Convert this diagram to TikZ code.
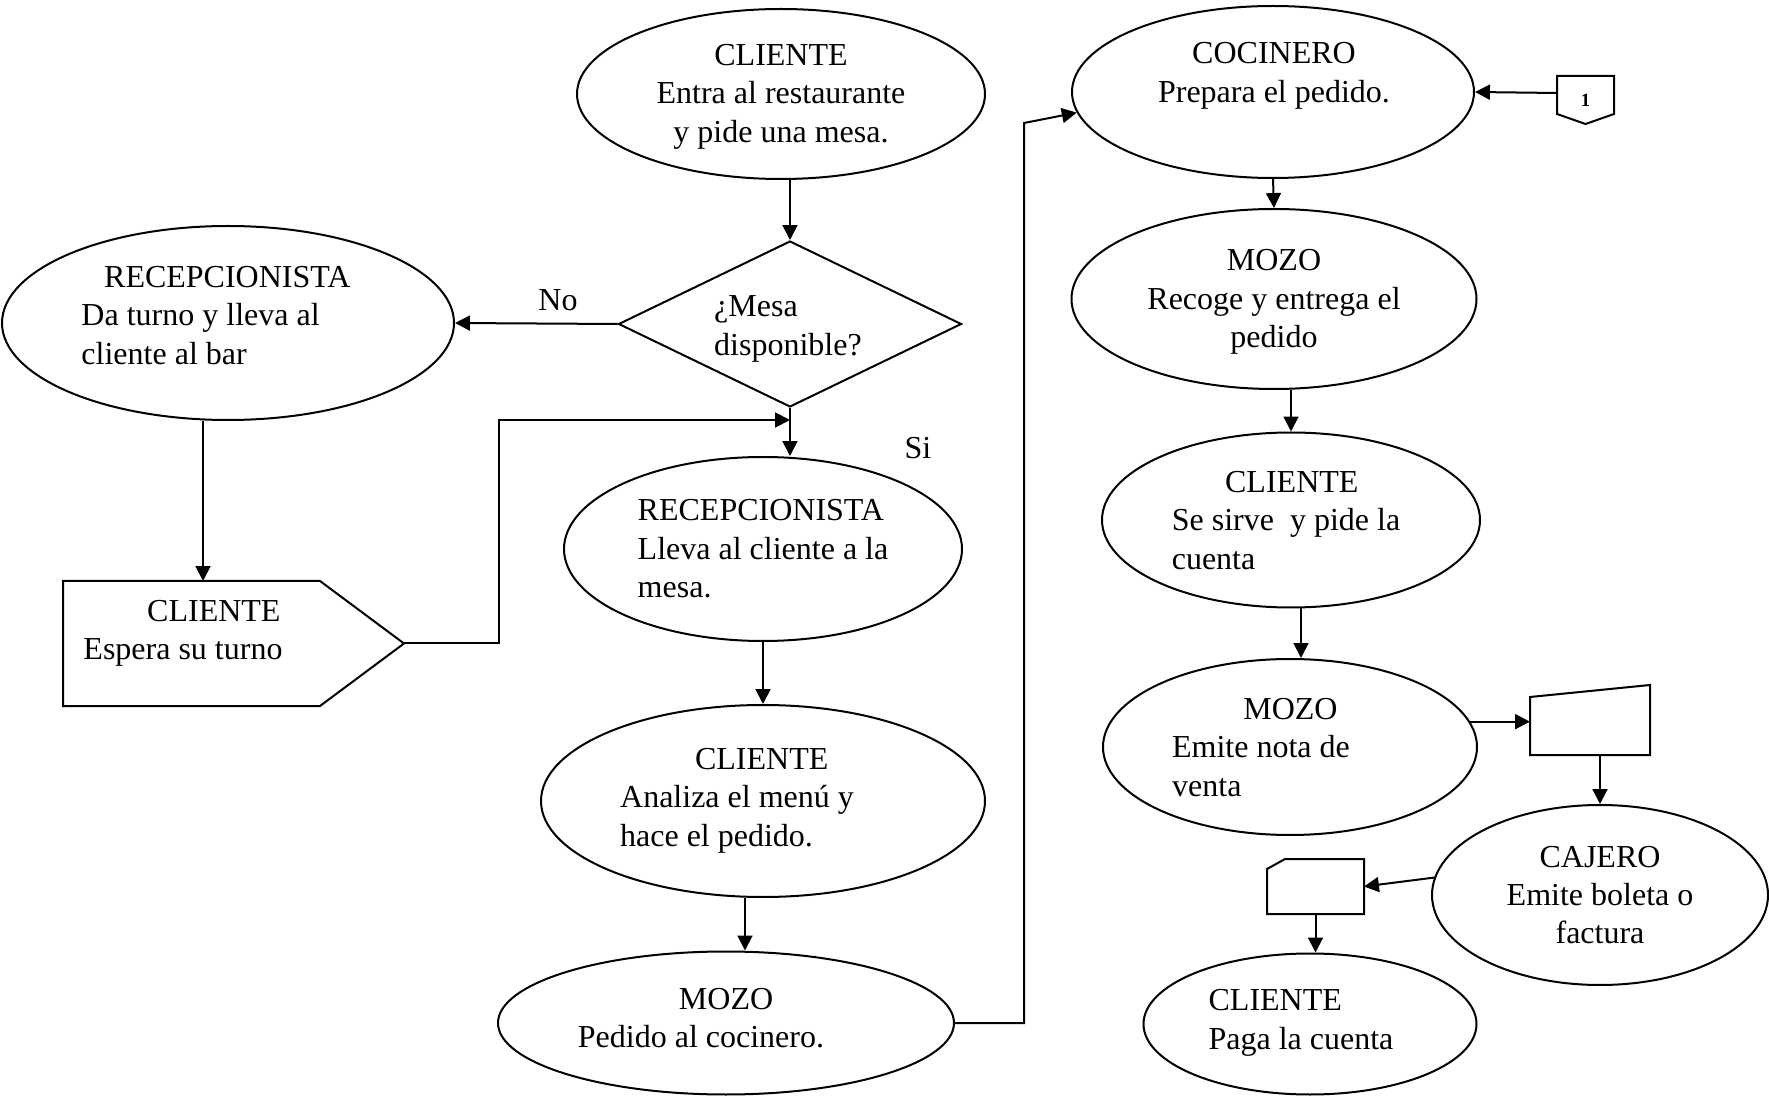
\documentclass[tikz,border=0pt]{standalone}
\usepackage{fontspec}
\setmainfont{Liberation Serif}
\usetikzlibrary{arrows.meta,shapes.geometric,calc}
\def\px{0.375pt}
\newcommand{\blk}[3][0pt]{\begin{tabular}{@{}l@{}}\hspace*{#1}#2\\#3\end{tabular}}

\begin{document}
\begin{tikzpicture}[x=\px,y=-\px,line width=0.75pt,>={Triangle[length=5.6pt,width=5.6pt]},
  every node/.style={font=\fontsize{12}{14.4}\selectfont},
  elli/.style={draw,ellipse,inner sep=0pt},
  box/.style={inner sep=0pt},
  txt/.style={inner sep=0pt},
  arr/.style={->}]
\useasboundingbox (0,0) rectangle (1769,1098);
\node[elli,minimum width=408*\px,minimum height=170*\px] (c1) at (781,94) {};
\node[draw,diamond,aspect=2,inner sep=0pt,minimum width=343*\px,minimum height=166*\px] (q) at (790,324) {};
\node[elli,minimum width=452*\px,minimum height=194*\px] (r1) at (228,323) {};
\node[box,minimum width=255*\px,minimum height=123*\px] (w) at (191.5,643.5) {};
\draw (w.south west) -- (w.north west) -- (w.north east) -- ($(w.east)+(84,0)$) coordinate (wtip) -- (w.south east) -- cycle;
\node[elli,minimum width=398*\px,minimum height=184*\px] (r2) at (763,549) {};
\node[elli,minimum width=444*\px,minimum height=192*\px] (c2) at (763,801) {};
\node[elli,minimum width=456*\px,minimum height=143*\px] (m1) at (726,1023) {};
\node[elli,minimum width=402*\px,minimum height=172*\px] (k) at (1273,92) {};
\node[elli,minimum width=405*\px,minimum height=180*\px] (m2) at (1274,299) {};
\node[elli,minimum width=378*\px,minimum height=175*\px] (c3) at (1291,520) {};
\node[elli,minimum width=374*\px,minimum height=176*\px] (m3) at (1290,747) {};
\node[elli,minimum width=336*\px,minimum height=180*\px] (j) at (1600,895) {};
\node[elli,minimum width=333*\px,minimum height=141*\px] (c4) at (1310,1024) {};
\node[box,minimum width=55*\px,minimum height=46*\px,font=\fontsize{7}{8}\selectfont\bfseries] (p1) at (1585.5,100) {1};
\draw (p1.north west) -- (p1.north east) -- ($(p1.south east)+(0,-10)$) -- (p1.south) -- ($(p1.south west)+(0,-10)$) -- cycle;
\node[box,minimum width=118*\px,minimum height=68*\px] (n) at (1590,720) {};
\draw (n.south west) -- (n.south east) -- (n.north east) -- ($(n.north west)+(0,12)$) -- cycle;
\node[box,minimum width=95*\px,minimum height=53*\px] (d) at (1315.5,886.5) {};
\draw (d.south west) -- (d.south east) -- (d.north east) -- ($(d.north west)+(18,0)$) -- ($(d.north west)+(0,10)$) -- cycle;
\node[txt,align=center] (c1t) at (781,96.5) {CLIENTE\\Entra al restaurante\\y pide una mesa.};
\node[txt,align=left] (qt) at (788,329) {¿Mesa\\disponible?};
\node[txt] (r1t) at (216,318) {\blk[8.5pt]{RECEPCIONISTA}{Da turno y lleva al\\cliente al bar}};
\node[txt] (wt) at (183,633) {\blk[23.9pt]{CLIENTE}{Espera su turno}};
\node[txt,align=left] (r2t) at (763,549) {RECEPCIONISTA\\Lleva al cliente a la\\mesa.};
\node[txt] (c2t) at (737,800) {\blk[28.1pt]{CLIENTE}{Analiza el menú y\\hace el pedido.}};
\node[txt] (m1t) at (701,1021) {\blk[37.9pt]{MOZO}{Pedido al cocinero.}};
\node[txt,align=center] (kt) at (1274,76) {COCINERO\\Prepara el pedido.};
\node[txt,align=center] (m2t) at (1274,302) {MOZO\\Recoge y entrega el\\pedido};
\node[txt] (c3t) at (1286,523) {\blk[20pt]{CLIENTE}{Se sirve\ \ y pide la\\cuenta}};
\node[txt] (m3t) at (1261,750) {\blk[26.7pt]{MOZO}{Emite nota de\\venta}};
\node[txt,align=center] (jt) at (1600,895) {CAJERO\\Emite boleta o\\factura};
\node[txt,align=left] (c4t) at (1301,1023) {CLIENTE\\Paga la cuenta};
\node (no) at (558,300) {No};
\node (si) at (918,448) {Si};
\coordinate (jn) at ($(q.south)+(0,12)$);
\draw[arr] (q.north |- c1.south) -- (q.north);
\draw[arr] (q.west) -- (r1.east);
\draw[arr] (q.south) -- (q.south |- r2.north);
\draw[arr] (r1.south) ++(-25,0) coordinate (a1) -- (a1 |- w.north);
\draw[arr] (wtip) -- ++(95,0) |- (jn);
\draw[arr] (r2.south) -- (c2.north);
\draw[arr] (c2.south) ++(-18,0) coordinate (a2) -- (a2 |- m1.north);
\draw[arr] (m1.east) -| (1024,123) -- (k.186);
\draw[arr] ($(p1.west)+(0,-7)$) -- (k.east);
\draw[arr] (k.south) -- (m2.north);
\draw[arr] (m2.south -| c3.north) -- (c3.north);
\draw[arr] (c3.south) ++(10,0) coordinate (a3) -- (a3 |- m3.north);
\draw[arr] (m3.8) -- (m3.8 -| n.west);
\draw[arr] (j.north |- n.south) -- (j.north);
\draw[arr] (j.174) -- (d.east);
\draw[arr] (d.south) -- (d.south |- c4.north);
\end{tikzpicture}
\end{document}
